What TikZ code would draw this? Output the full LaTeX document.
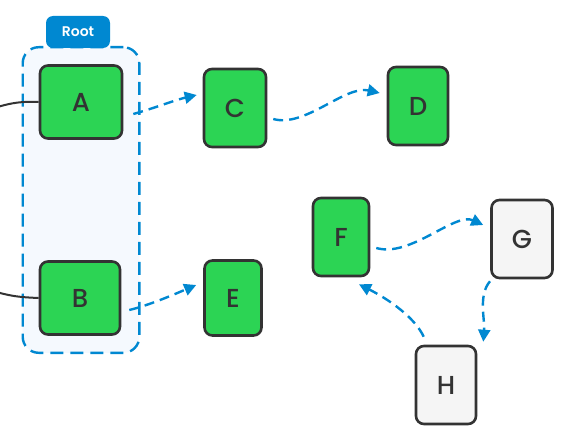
\documentclass[tikz,border=0pt]{standalone}
\usepackage{fontspec}
\setmainfont{Poppins}
\newfontfamily\popm{Poppins}[UprightFont={* Medium},BoldFont={* SemiBold}]
\usetikzlibrary{arrows.meta,fit,backgrounds}
\definecolor{nodegreen}{RGB}{44,212,84}
\definecolor{nodegray}{RGB}{245,245,245}
\definecolor{edgeblue}{RGB}{0,136,209}
\definecolor{groupfill}{RGB}{245,249,254}
\definecolor{bordergray}{RGB}{51,51,51}
\tikzset{
  box/.style={draw=bordergray,line width=2.6pt,rounded corners=8pt,font=\popm\fontsize{26}{26}\selectfont,text=bordergray,inner sep=0pt},
  gbox/.style={box,fill=nodegreen},
  wbox/.style={box,fill=nodegray},
  dep/.style={draw=edgeblue,line width=2.4pt,dash pattern=on 10pt off 6pt,-{Triangle[length=12pt,width=12pt]}},
  inedge/.style={draw=bordergray,line width=2pt},
}
\begin{document}
\begin{tikzpicture}[x=1pt,y=-1pt]
\clip (0,0) rectangle (576,436);
% nodes
\node[gbox,minimum width=82pt,minimum height=73pt] (A) at (81,102) {A};
\node[gbox,minimum width=80pt,minimum height=73pt] (B) at (80,298) {B};
\node[gbox,minimum width=62pt,minimum height=78pt] (C) at (235,108) {C};
\node[gbox,minimum width=60pt,minimum height=78pt] (D) at (418,106) {D};
\node[gbox,minimum width=57pt,minimum height=75pt] (E) at (233,298) {E};
\node[gbox,minimum width=56pt,minimum height=78pt] (F) at (341,237) {F};
\node[wbox,minimum width=61pt,minimum height=78pt] (G) at (522,239) {G};
\node[wbox,minimum width=60pt,minimum height=78pt] (H) at (446,385) {H};
% group
\begin{scope}[on background layer]
\fill[white] (0,0) rectangle (576,436);
\node[draw=edgeblue,fill=groupfill,line width=2.4pt,dash pattern=on 13pt off 7pt,rounded corners=16pt,fit=(A)(B),inner xsep=16pt,inner ysep=17pt] (root) {};
\coordinate (inA) at (-30,116);
\coordinate (inB) at (-30,283);
\draw[inedge] (inA) .. controls (5,104) and (15,101) .. (A.west);
\draw[inedge] (inB) .. controls (5,296) and (15,297) .. (B.west);
\end{scope}
\fill[edgeblue,rounded corners=7pt] (46,48) -- (46,16) -- (110,16) -- (110,48) -- cycle;
\node[text=white,font=\popm\bfseries\fontsize{14}{14}\selectfont] (roottab) at (78,32) {Root};
% dependency edges
\draw[dep] ([shift={(10,12)}]A.east) .. controls (155,108) and (175,100) .. ([shift={(-6,-13)}]C.west);
\draw[dep] ([shift={(6,11)}]C.east) .. controls (305,128) and (345,85) .. ([shift={(-7,-13)}]D.west);
\draw[dep] ([shift={(8,12)}]B.east) .. controls (150,305) and (175,294) .. ([shift={(-7,-13)}]E.west);
\draw[dep] ([shift={(6,11)}]F.east) .. controls (410,258) and (455,212) .. ([shift={(-7,-14)}]G.west);
\draw[dep] ([shift={(-32,2)}]G.south) .. controls (478,295) and (485,320) .. ([shift={(6,-3)}]H.north east);
\draw[dep] ([shift={(9,-8)}]H.north west) .. controls (415,318) and (390,300) .. ([shift={(18,7)}]F.south);
\end{tikzpicture}
\end{document}
